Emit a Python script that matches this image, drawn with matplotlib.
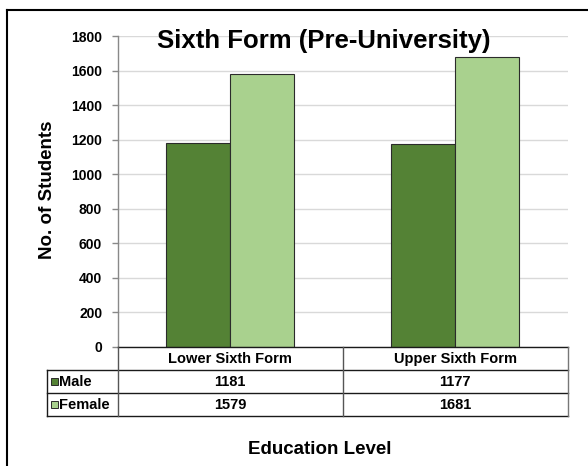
import matplotlib
matplotlib.use("Agg")
import matplotlib.pyplot as plt
from matplotlib.lines import Line2D
from matplotlib.patches import Rectangle

categories = ["Lower Sixth Form", "Upper Sixth Form"]
series_names = ["Male", "Female"]
male = [1181, 1177]
female = [1579, 1681]
yticks = [0, 200, 400, 600, 800, 1000, 1200, 1400, 1600, 1800]
colors = ["#548235", "#A9D18E"]

plt.rcParams['font.family'] = ['Liberation Sans', 'DejaVu Sans']
plt.rcParams['font.weight'] = 'bold'

W, H = 588, 466
fig = plt.figure(figsize=(W / 100, H / 100), dpi=100)

def fx(px):
    return px / W

def fy(py):
    return (H - py) / H

ax_left, ax_right, ax_top, ax_bottom = 117.5, 568, 36, 347
ax = fig.add_axes([fx(ax_left), fy(ax_bottom), fx(ax_right) - fx(ax_left), fy(ax_top) - fy(ax_bottom)])

x = list(range(len(categories)))
bw = 0.284
ax.bar([i - bw / 2 for i in x], male, width=bw, color=colors[0], edgecolor="#2b2b2b", linewidth=0.8, zorder=3)
ax.bar([i + bw / 2 for i in x], female, width=bw, color=colors[1], edgecolor="#2b2b2b", linewidth=0.8, zorder=3)

ax.set_xlim(-0.5, len(categories) - 0.5)
ax.set_ylim(0, 1800)
ax.set_yticks(yticks)
ax.set_yticklabels([str(t) for t in yticks], fontsize=10, fontweight='bold')
ax.set_xticks([])
ax.yaxis.grid(True, color="#d9d9d9", linewidth=1.0, zorder=0)
ax.set_axisbelow(True)
for s in ["top", "right", "bottom"]:
    ax.spines[s].set_visible(False)
ax.spines["left"].set_color("#898989")
ax.spines["left"].set_linewidth(1.0)
ax.tick_params(axis='y', length=4, width=1.0, color="#898989", pad=7)

# data table under the axes
rows_y = [347, 370, 393, 416]
tab_left = 47
mid_x = (ax_left + ax_right) / 2
lc = "#1a1a1a"
lw = 1.0
def hline(y, x0, x1, color=lc):
    fig.add_artist(Line2D([fx(x0), fx(x1)], [fy(y), fy(y)], color=color, linewidth=lw))
def vline(xp, y0, y1, color=lc):
    fig.add_artist(Line2D([fx(xp), fx(xp)], [fy(y0), fy(y1)], color=color, linewidth=lw))

hline(rows_y[0], ax_left, ax_right)
for yy in rows_y[1:]:
    hline(yy, tab_left, ax_right)
vline(tab_left, rows_y[1], rows_y[3])
vline(ax_left, rows_y[0], rows_y[3], color="#555555")
vline(mid_x, rows_y[0], rows_y[3], color="#555555")
vline(ax_right, rows_y[0], rows_y[3], color="#777777")

col_centers = [(ax_left + mid_x) / 2, (mid_x + ax_right) / 2]
for c, name in zip(col_centers, categories):
    fig.text(fx(c), fy((rows_y[0] + rows_y[1]) / 2 + 0.5), name, ha='center', va='center',
             fontsize=10.5, fontweight='bold')
for r, (vals, name, col) in enumerate(zip([male, female], series_names, colors)):
    yc = (rows_y[r + 1] + rows_y[r + 2]) / 2 + 0.5
    sq_c = yc - 1.0
    fig.add_artist(Rectangle((fx(51), fy(sq_c + 3.5)), fx(6.5), 6.5 / H, facecolor=col,
                             edgecolor="#2b2b2b", linewidth=0.7))
    fig.text(fx(59.5), fy(yc), name, ha='left', va='center', fontsize=10.5, fontweight='bold')
    for c, v in zip(col_centers, vals):
        fig.text(fx(c), fy(yc), str(v), ha='center', va='center', fontsize=10.5, fontweight='bold')

# titles
fig.text(fx(324), fy(48), "Sixth Form (Pre-University)", ha='center', va='baseline',
         fontsize=18.5, fontweight='bold')
fig.text(fx(320), fy(449), "Education Level", ha='center', va='center',
         fontsize=13.5, fontweight='bold')
fig.text(fx(47.5), fy(190), "No. of Students", ha='center', va='center', rotation=90,
         fontsize=13.5, fontweight='bold')

# outer chart frame (cropped on right and bottom)
fig.add_artist(Line2D([fx(7), fx(7)], [fy(10), fy(470)], color="black", linewidth=1.5))
fig.add_artist(Line2D([fx(7), fx(600)], [fy(10), fy(10)], color="black", linewidth=1.5))

fig.savefig("out.png", dpi=100)
